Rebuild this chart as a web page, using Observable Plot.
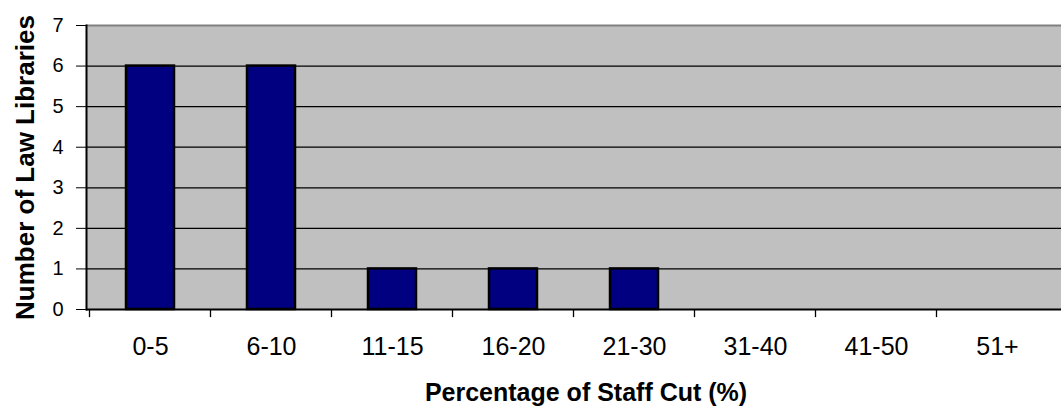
<!DOCTYPE html>
<html>
<head>
<meta charset="utf-8">
<script src="https://cdn.jsdelivr.net/npm/d3@7"></script>
<script src="https://cdn.jsdelivr.net/npm/@observablehq/plot@0.6"></script>
<style>
  html, body { margin: 0; padding: 0; background: #ffffff; }
  #chart svg { display: block; }
</style>
</head>
<body>
<div id="chart"></div>
<script>
const categories = ["0-5", "6-10", "11-15", "16-20", "21-30", "31-40", "41-50", "51+"];
const counts = [6, 6, 1, 1, 1, 0, 0, 0];
const yTicks = [0, 1, 2, 3, 4, 5, 6, 7];
const gridValues = [1, 2, 3, 4, 5, 6];
const xTitle = "Percentage of Staff Cut (%)";
const yTitle = "Number of Law Libraries";

const data = categories.map((c, i) => ({category: c, count: counts[i]}));
const barData = data.filter(d => d.count > 0);

const chart = Plot.plot({
  width: 1061,
  height: 407,
  marginLeft: 86,
  marginRight: 0,
  marginTop: 25,
  marginBottom: 98,
  style: {fontFamily: "'Liberation Sans', Arial, sans-serif", background: "#ffffff", color: "#000000"},
  x: {domain: categories, paddingInner: 0.6, paddingOuter: 0.3, align: 0.5, axis: null},
  y: {domain: [0, 7], axis: null},
  marks: [
    Plot.frame({fill: "#C0C0C0", stroke: null}),
    Plot.ruleY(gridValues, {stroke: "#000000", strokeWidth: 1.3}),
    Plot.ruleY([7], {stroke: "#808080", strokeWidth: 2}),
    Plot.barY(barData, {x: "category", y: "count", fill: "#000080", stroke: "#000000", strokeWidth: 2.5}),
    Plot.ruleY([0], {stroke: "#000000", strokeWidth: 2}),
    Plot.frame({anchor: "left", stroke: "#000000", strokeWidth: 2}),
    // tick marks at category boundaries, below the x axis
    Plot.ruleX(categories, {x: d => d, dx: -61, y1: 0, y2: -0.2, stroke: "#000000", strokeWidth: 1.3, clip: false}),
    // y tick marks (no labels) and y tick labels
    Plot.axisY({ticks: yTicks, tickSize: 10, tickFormat: () => "", label: null, stroke: "#000000"}),
    Plot.text(yTicks, {y: d => d, frameAnchor: "left", textAnchor: "end", dx: -23, fontSize: 20, fill: "#000000", text: d => String(d)}),
    // x category labels
    Plot.text(categories, {x: d => d, frameAnchor: "bottom", textAnchor: "middle", lineAnchor: "top", dy: 28, fontSize: 25, fill: "#000000", text: d => d}),
    Plot.text([xTitle], {frameAnchor: "bottom", textAnchor: "middle", dx: 12, dy: 91, lineAnchor: "bottom", fontSize: 25, fontWeight: "bold", fill: "#000000"}),
    Plot.text([yTitle], {frameAnchor: "left", textAnchor: "middle", rotate: -90, dx: -53, lineAnchor: "bottom", fontSize: 26, fontWeight: "bold", fill: "#000000"})
  ]
});
document.getElementById("chart").appendChild(chart);
</script>
</body>
</html>
